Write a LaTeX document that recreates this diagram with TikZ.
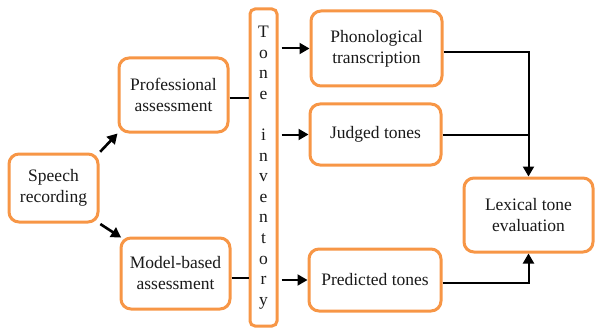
\documentclass[tikz,border=0pt]{standalone}
\usepackage{fontspec}
\setmainfont{Liberation Serif}
\newfontfamily\tnr{Liberation Serif}
\usetikzlibrary{arrows.meta,calc}
\definecolor{boxorange}{HTML}{F79646}
\definecolor{txt}{HTML}{1A1A1A}
\begin{document}
\begin{tikzpicture}[x=1pt,y=-1pt,
  box/.style={draw=boxorange,line width=3pt,rounded corners=10pt,fill=white,
    align=center,inner sep=2pt,text=txt,
    font=\tnr\fontsize{17.5}{21}\selectfont},
  conn/.style={draw=black,line width=2pt},
  arr/.style={conn,-{Triangle[length=10pt,width=11pt]}},
  sarr/.style={draw=black,line width=2.6pt,-{Triangle[length=10pt,width=11pt]}}]
\useasboundingbox (0,0) rectangle (595,329);
\node[box,minimum width=89pt,minimum height=68pt] (speech) at (53.5,188) {Speech\\recording};
\node[box,minimum width=109pt,minimum height=74pt] (prof) at (173.5,95) {Professional\\assessment};
\node[box,minimum width=109pt,minimum height=71pt] (model) at (175.5,273.5) {Model-based\\assessment};
\node[box,rounded corners=5pt,minimum width=27pt,minimum height=317pt,inner sep=0pt,
  font=\tnr\fontsize{17.5}{20.6}\selectfont] (tone) at (263.5,167.5)
  {T\\o\\n\\e\\[20.6pt]i\\n\\v\\e\\n\\t\\o\\r\\y};
\node[box,minimum width=131pt,minimum height=75pt] (phon) at (376.5,48.5) {Phonological\\transcription};
\node[box,minimum width=131pt,minimum height=61pt] (judged) at (375.5,134.5) {Judged tones};
\node[box,minimum width=132pt,minimum height=62pt] (pred) at (375,280) {Predicted tones};
\node[box,minimum width=129pt,minimum height=74pt] (lex) at (528.5,215) {Lexical tone\\evaluation};
\draw[sarr,shorten <=1pt] (speech.north east) -- (prof.south west);
\draw[sarr,shorten <=1pt,shorten >=-2pt] (speech.south east) -- (model.north west);
\draw[conn] (prof.east |- 0,98) -- (tone.west |- 0,98);
\draw[conn] (model.east |- 0,278) -- (tone.west |- 0,278);
\draw[arr,shorten <=3pt] (tone.east |- phon.west) -- (phon.west);
\draw[arr,shorten <=3pt] (tone.east |- judged.west) -- (judged.west);
\draw[arr,shorten <=3pt] (tone.east |- pred.west) -- (pred.west);
\draw[arr] (phon.east |- 0,52) -| (lex.north);
\draw[conn] (judged.east) -- (judged.east -| lex.north);
\draw[arr] (pred.east |- 0,283) -| (lex.south);
\end{tikzpicture}
\end{document}
